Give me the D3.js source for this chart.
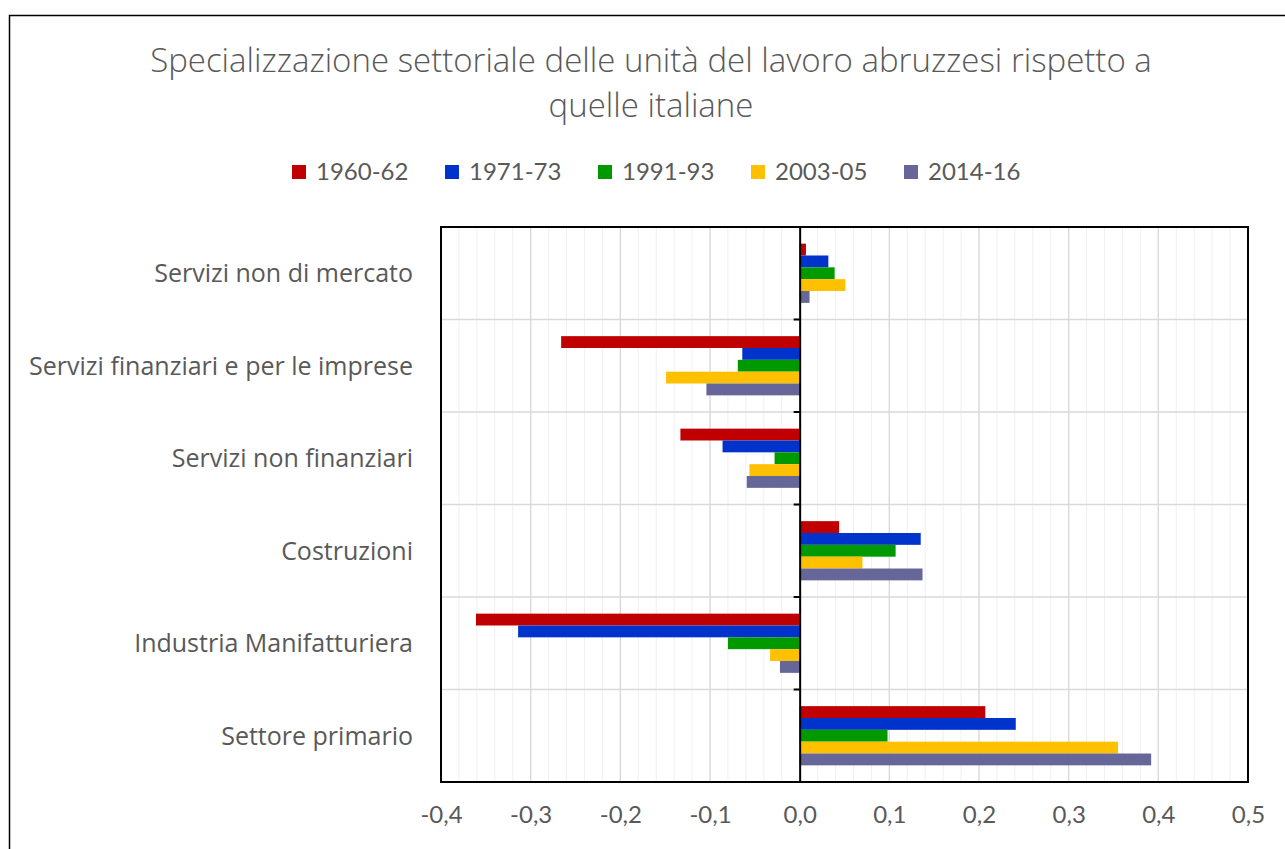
<!DOCTYPE html>
<html>
<head>
<meta charset="utf-8">
<script src="https://cdn.jsdelivr.net/npm/d3@7"></script>
<style>
  body { margin: 0; background: #fff; }
  svg { display: block; font-family: Lato, "Open Sans", sans-serif; }
</style>
</head>
<body>
<svg id="chart" width="1285" height="849"></svg>
<script>
// categories, top to bottom as drawn
const categories = [
  "Servizi non di mercato",
  "Servizi finanziari e per le imprese",
  "Servizi non finanziari",
  "Costruzioni",
  "Industria Manifatturiera",
  "Settore primario"
];

const periods = ["1960-62", "1971-73", "1991-93", "2003-05", "2014-16"];
const colors = ["#c00000", "#0033cc", "#009900", "#ffc000", "#666699"];

// one array per period, same order as categories
const v1960 = [0.007, -0.266, -0.133, 0.044, -0.361, 0.207];
const v1971 = [0.032, -0.064, -0.086, 0.135, -0.314, 0.241];
const v1991 = [0.039, -0.069, -0.028, 0.107, -0.080, 0.098];
const v2003 = [0.051, -0.149, -0.056, 0.070, -0.033, 0.355];
const v2014 = [0.011, -0.104, -0.059, 0.137, -0.022, 0.392];

const xTicks = [-0.4, -0.3, -0.2, -0.1, 0.0, 0.1, 0.2, 0.3, 0.4, 0.5];

const series = [v1960, v1971, v1991, v2003, v2014];

const svg = d3.select("#chart");
const margin = {top: 227, right: 37, bottom: 67, left: 441};
const width = +svg.attr("width") - margin.left - margin.right;
const height = +svg.attr("height") - margin.top - margin.bottom;
const textColor = "#595959";

// outer chart border (runs off the right and bottom edge)
svg.append("rect")
  .attr("x", 9.5).attr("y", 15.5)
  .attr("width", 1400).attr("height", 1000)
  .attr("fill", "none").attr("stroke", "#000").attr("stroke-width", 1.5);

// title
const title = svg.append("text")
  .attr("text-anchor", "middle")
  .attr("fill", textColor)
  .attr("font-family", "'Open Sans', Lato, sans-serif")
  .attr("font-size", 33)
  .attr("font-weight", 300);
title.append("tspan").attr("x", 651).attr("y", 72)
  .text("Specializzazione settoriale delle unità del lavoro abruzzesi rispetto a");
title.append("tspan").attr("x", 651).attr("y", 117)
  .text("quelle italiane");

// legend
const legendX = [292, 445, 598, 751, 904];
const legend = svg.append("g");
periods.forEach((p, i) => {
  const item = legend.append("g").attr("transform", `translate(${legendX[i]},172)`);
  item.append("rect").attr("x", 0).attr("y", -7).attr("width", 14).attr("height", 14)
    .attr("fill", colors[i]);
  item.append("text").attr("x", 24).attr("y", 0).attr("dy", "0.35em")
    .attr("fill", textColor).attr("font-size", 24)
    .text(p);
});

const x = d3.scaleLinear().domain([-0.4, 0.5]).range([0, width]);
const y = d3.scaleBand().domain(categories).range([0, height]);
const inner = d3.scaleBand().domain(periods)
  .range([y.bandwidth() * 0.18, y.bandwidth() * 0.82]);

const g = svg.append("g")
  .attr("transform", `translate(${margin.left},${margin.top})`);

// minor vertical gridlines
g.append("g")
  .selectAll("line")
  .data(d3.range(-0.4, 0.5001, 0.02))
  .join("line")
  .attr("x1", d => x(d)).attr("x2", d => x(d))
  .attr("y1", 0).attr("y2", height)
  .attr("stroke", "#f0f0f0").attr("stroke-width", 1);

// major vertical gridlines
g.append("g")
  .selectAll("line")
  .data(xTicks)
  .join("line")
  .attr("x1", d => x(d)).attr("x2", d => x(d))
  .attr("y1", 0).attr("y2", height)
  .attr("stroke", "#d9d9d9").attr("stroke-width", 1.3);

// horizontal gridlines at category boundaries
g.append("g")
  .selectAll("line")
  .data(categories.slice(1))
  .join("line")
  .attr("x1", 0).attr("x2", width)
  .attr("y1", d => y(d)).attr("y2", d => y(d))
  .attr("stroke", "#d9d9d9").attr("stroke-width", 1.3);

// bars
periods.forEach((p, i) => {
  g.append("g")
    .selectAll("rect")
    .data(categories.map((c, j) => ({cat: c, val: series[i][j]})))
    .join("rect")
    .attr("x", d => x(Math.min(0, d.val)))
    .attr("width", d => Math.abs(x(d.val) - x(0)))
    .attr("y", d => y(d.cat) + inner(p))
    .attr("height", inner.bandwidth())
    .attr("fill", colors[i]);
});

// plot area border
g.append("rect")
  .attr("x", 0).attr("y", 0).attr("width", width).attr("height", height)
  .attr("fill", "none").attr("stroke", "#000").attr("stroke-width", 2);

// y axis at zero
const yAxis = g.append("g")
  .attr("transform", `translate(${x(0)},0)`)
  .call(d3.axisLeft(y).tickValues([]).tickSize(0));
yAxis.select(".domain").attr("stroke", "#000").attr("stroke-width", 2);
yAxis.append("g")
  .selectAll("line")
  .data(categories.slice(1))
  .join("line")
  .attr("x1", -6).attr("x2", 0)
  .attr("y1", d => y(d)).attr("y2", d => y(d))
  .attr("stroke", "#000").attr("stroke-width", 2);
yAxis.append("line")
  .attr("x1", -6).attr("x2", 0).attr("y1", 0).attr("y2", 0)
  .attr("stroke", "#000").attr("stroke-width", 2);

// category labels on the left
g.append("g")
  .selectAll("text")
  .data(categories)
  .join("text")
  .attr("x", -28)
  .attr("y", d => y(d) + y.bandwidth() / 2)
  .attr("dy", "0.35em")
  .attr("text-anchor", "end")
  .attr("fill", textColor)
  .attr("font-family", "'Open Sans', Lato, sans-serif")
  .attr("font-size", 25)
  .text(d => d);

// x axis labels
const fmt = d => d3.format(".1f")(d).replace("−", "-").replace(".", ",");
const xAxis = g.append("g")
  .attr("transform", `translate(0,${height})`)
  .call(d3.axisBottom(x).tickValues(xTicks).tickFormat(fmt).tickSize(0).tickPadding(24));
xAxis.select(".domain").remove();
xAxis.selectAll("text")
  .attr("fill", textColor)
  .attr("font-size", 24)
  .attr("font-family", "Lato, 'Open Sans', sans-serif");
</script>
</body>
</html>
